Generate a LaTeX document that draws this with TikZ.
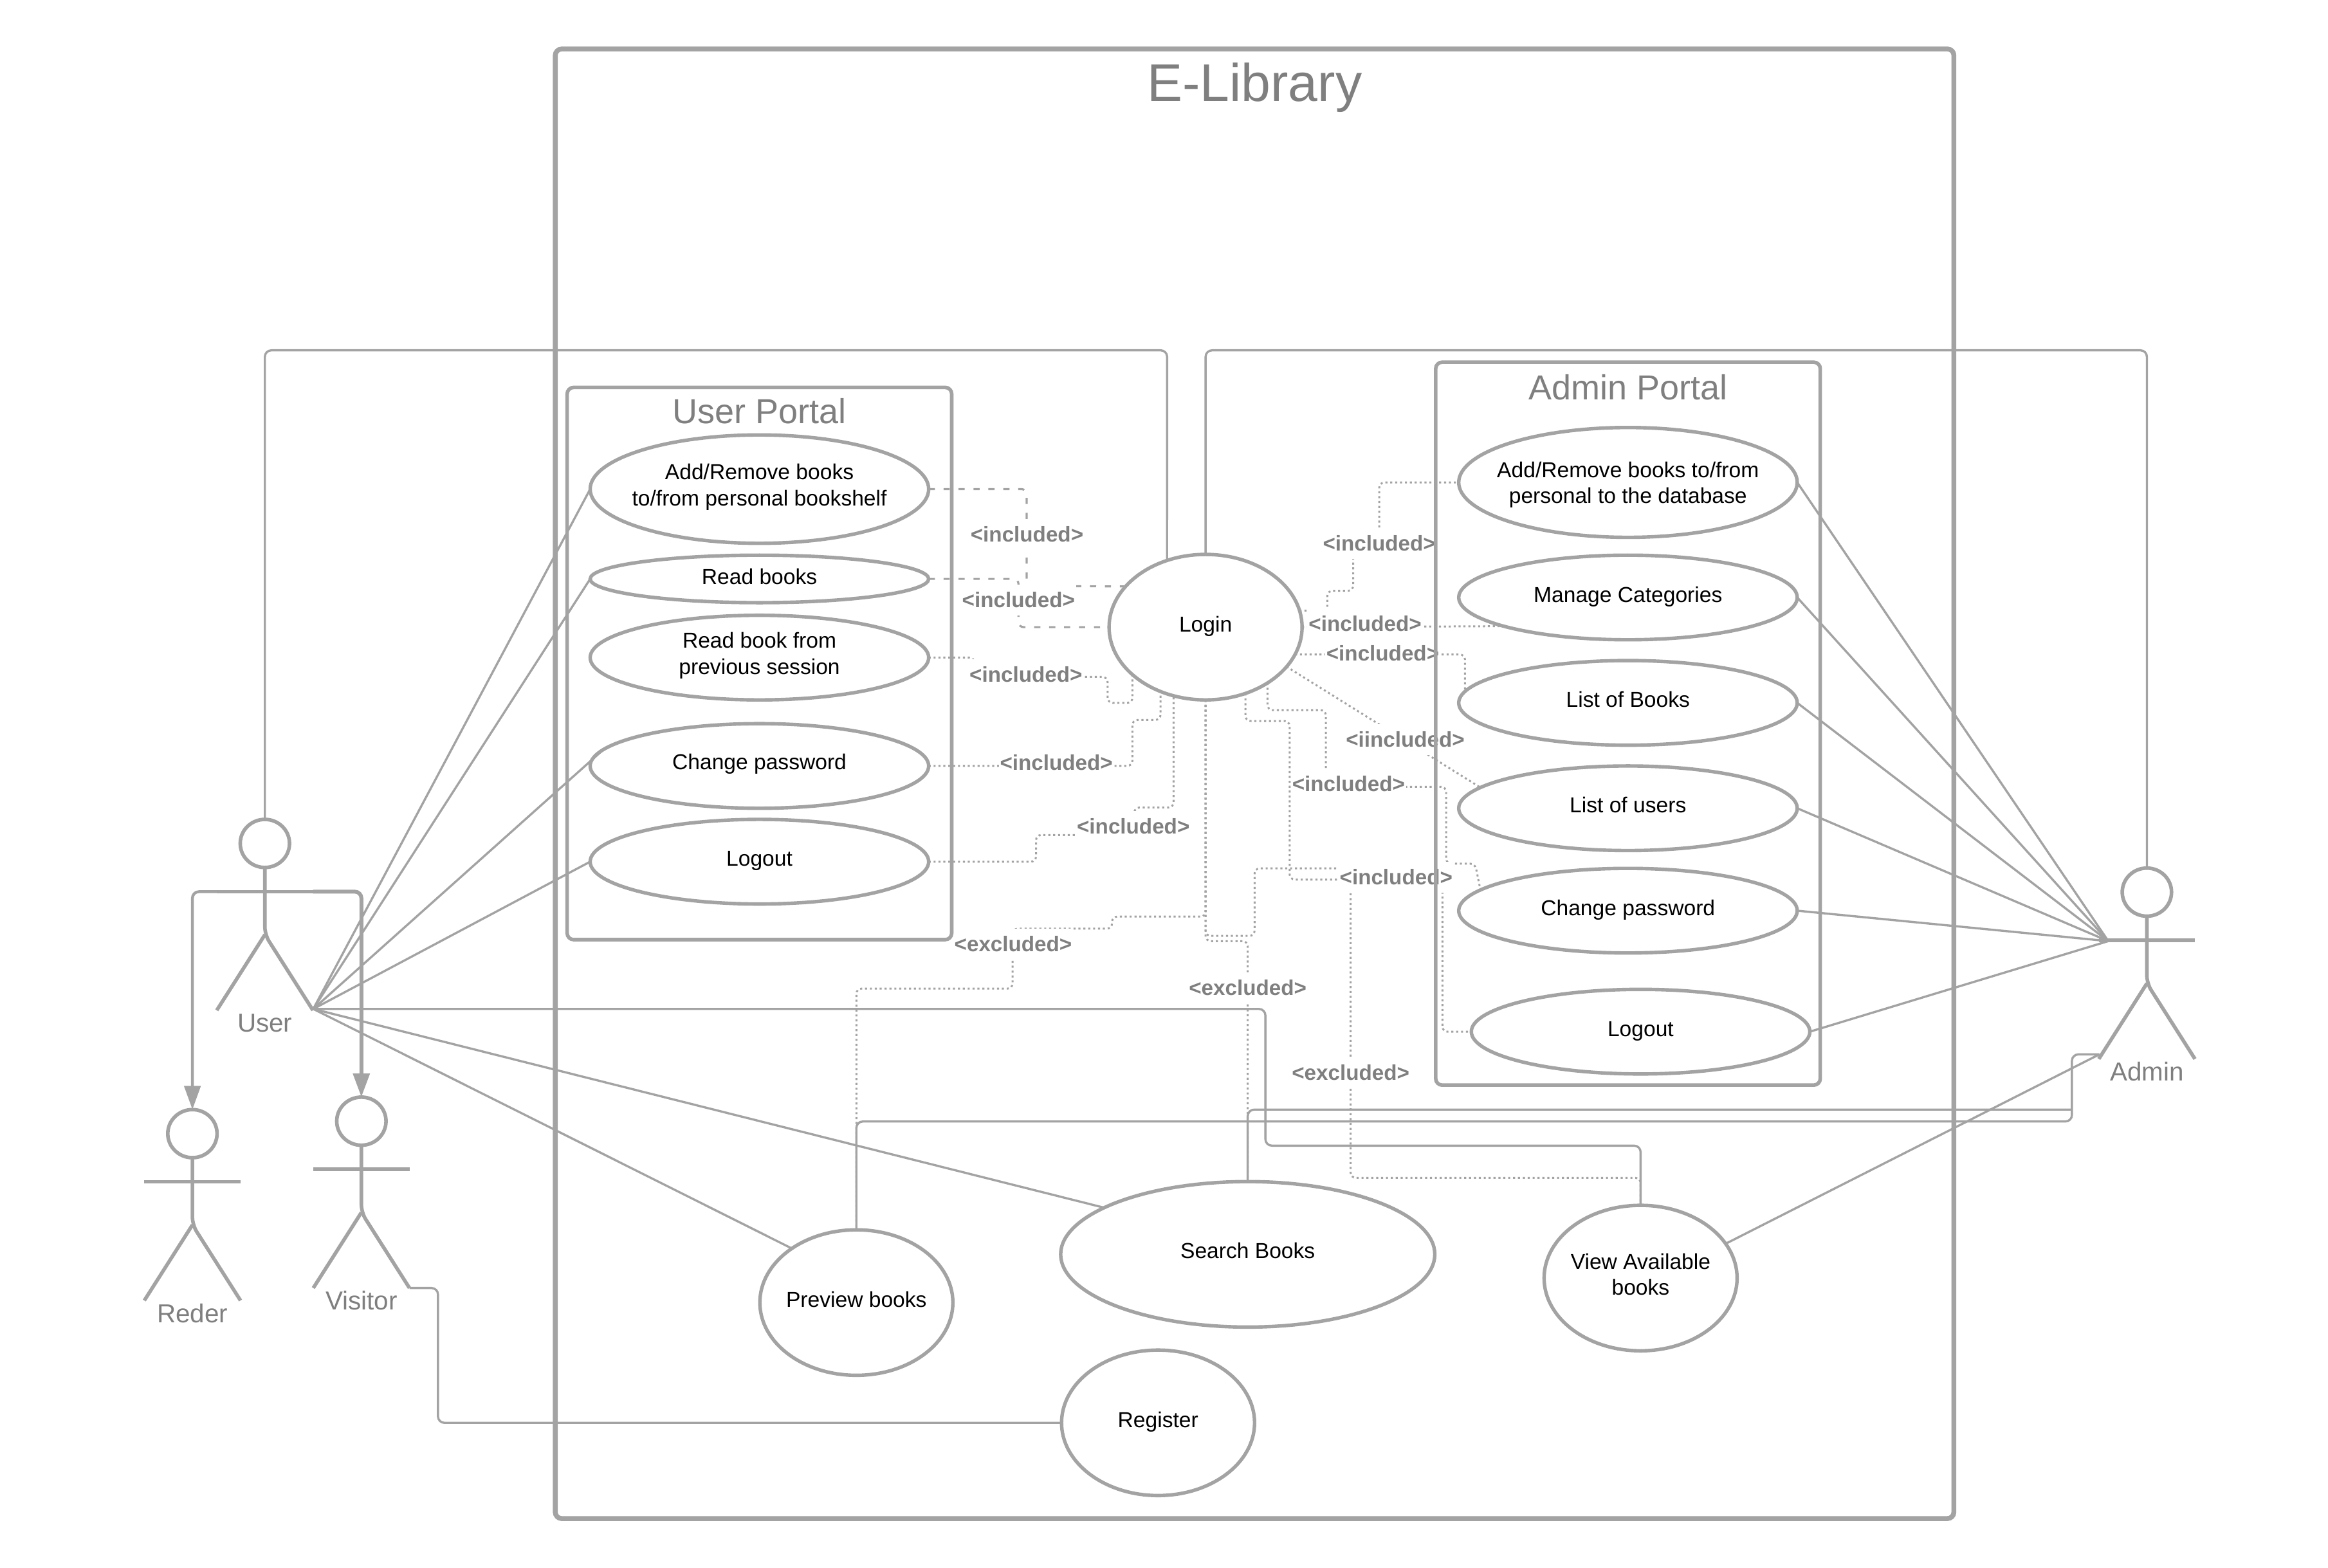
\documentclass[tikz,border=0pt]{standalone}
\usepackage{fontspec}
\setmainfont{Liberation Sans}
\usetikzlibrary{shapes.geometric,arrows.meta}
\pgfdeclarelayer{back}
\pgfdeclarelayer{mid}
\pgfsetlayers{back,mid,main}
\definecolor{ln}{HTML}{A3A3A3}
\definecolor{tx}{HTML}{7F7F7F}
\def\U{0.577}
\tikzset{
  x=0.577pt,y=-0.577pt,
  thin line/.style={draw=ln,line width=0.85pt,rounded corners=2.5pt},
  dotline/.style={draw=ln,line width=0.75pt,rounded corners=2pt,dash pattern=on 0.8pt off 1.1pt},
  dashline/.style={draw=ln,line width=0.8pt,rounded corners=2pt,dash pattern=on 2.4pt off 3.4pt},
  uc/.style args={#1x#2}{ellipse,draw=ln,line width=1.35pt,fill=white,inner sep=0pt,outer sep=0pt,
     minimum width=#1*2*\U pt,minimum height=#2*2*\U pt},
  uctxt/.style={font=\fontsize{8.4}{10.1}\selectfont,text=black,align=center,inner sep=0pt,yshift=#1},
  uctxt/.default=1.4pt,
  lbl/.style={font=\fontsize{8.3}{10}\selectfont\bfseries,text=tx,fill=white,inner xsep=0.5pt,inner ysep=0pt,minimum height=12pt},
  frame/.style={rectangle,draw=ln,rounded corners=2.5pt,inner sep=0pt,outer sep=0pt},
  ptitle/.style={font=\fontsize{13.5}{16}\selectfont,text=tx,inner sep=0pt},
  actorline/.style={draw=ln,line width=1.4pt},
  actlbl/.style={font=\fontsize{10.1}{12}\selectfont,text=tx,inner sep=0pt},
  gen/.style={draw=ln,line width=#1,rounded corners=2.5pt,-{Triangle[width=6.3pt,length=9.2pt]}},
}
% \actor{name}{cx}{cy}{label}
\newcommand{\actor}[4]{%
  \node[ellipse,draw=ln,line width=1.4pt,inner sep=0pt,outer sep=0pt,minimum width=33.2*\U pt,minimum height=32.4*\U pt] (#1) at (#2,#3) {};
  \coordinate (#1-l) at (#2-32.4,#3+32.5);
  \coordinate (#1-r) at (#2+32.4,#3+32.5);
  \coordinate (#1-hip) at (#2,#3+61.5);
  \coordinate (#1-lf) at (#2-32.4,#3+112.4);
  \coordinate (#1-rf) at (#2+32.4,#3+112.4);
  \draw[actorline] (#1-l) -- (#1-r);
  \draw[actorline,rounded corners=3pt] (#1.south) -- (#1-hip) -- (#1-rf);
  \draw[actorline] (#1-hip) -- (#1-lf);
  \node[actlbl] (#1-lbl) at (#2,#3+121) {#4};
}
\begin{document}
\begin{tikzpicture}
\useasboundingbox (0,0) rectangle (1568,1056.3);
% frames
\node[frame,line width=1.9pt,minimum width=942*\U pt,minimum height=990*\U pt] (sys) at (845,528) {};
\node[font=\fontsize{20.6}{24}\selectfont,text=tx,inner sep=0pt] (systitle) at (845,59) {E-Library};
\node[frame,line width=1.4pt,minimum width=259*\U pt,minimum height=372*\U pt] (uport) at (511.5,447) {};
\node[ptitle] (uptitle) at (511.5,277) {User Portal};
\node[frame,line width=1.4pt,minimum width=259*\U pt,minimum height=487*\U pt] (aport) at (1096.5,487.5) {};
\node[ptitle] (aptitle) at (1096.5,261) {Admin Portal};
% user use cases
\node[uc=114x36.5,label={[uctxt=0.8pt]center:{Add/Remove books\\to/from personal bookshelf}}] (uar) at (511.5,329.5) {};
\node[uc=114x16,label={[uctxt=0.8pt]center:{Read books}}] (urb) at (511.5,390) {};
\node[uc=114x28.5,label={[uctxt=0.8pt]center:{Read book from\\previous session}}] (urf) at (511.5,443) {};
\node[uc=114x28.5,label={[uctxt=0.8pt]center:{Change password}}] (ucp) at (511.5,516) {};
\node[uc=114x28.5,label={[uctxt=0.25pt]center:{Logout}}] (ulo) at (511.5,580.5) {};
% admin use cases
\node[uc=114x37,label={[uctxt=-0.9pt]center:{Add/Remove books to/from\\personal to the database}}] (aar) at (1096.5,325) {};
\node[uc=114x28.5,label={[uctxt=0.25pt]center:{Manage Categories}}] (amc) at (1096.5,402.5) {};
\node[uc=114x28.5,label={[uctxt]center:{List of Books}}] (alb) at (1096.5,473.5) {};
\node[uc=114x28.5,label={[uctxt]center:{List of users}}] (alu) at (1096.5,544.5) {};
\node[uc=114x28.5,label={[uctxt=0.25pt]center:{Change password}}] (acp) at (1096.5,613.5) {};
\node[uc=114x28.5,label={[uctxt=0.25pt]center:{Logout}}] (alo) at (1105,695) {};
% centre and bottom
\node[uc=65x49,label={[uctxt=0.25pt]center:{Login}}] (login) at (812,422.5) {};
\node[uc=65x49,label={[uctxt=1.1pt]center:{Preview books}}] (preview) at (576.8,877.5) {};
\node[uc=126x49,label={[uctxt]center:{Search Books}}] (search) at (840.4,845) {};
\node[uc=65x49,label={[uctxt]center:{View Available\\books}}] (view) at (1105,861) {};
\node[uc=65x49,label={[uctxt=0.25pt]center:{Register}}] (register) at (780,958.5) {};
% actors
\actor{user}{178.4}{568.2}{User}
\actor{reder}{129.6}{763.7}{Reder}
\actor{visitor}{243.4}{755.3}{Visitor}
\actor{admin}{1446}{601}{Admin}
\coordinate (adminhub) at (1420,634);
\coordinate (adminfoot) at (1414,710.3);
\coordinate (userhub) at (211,679.7);
% included/excluded connectors
\begin{pgfonlayer}{back}
\draw[dashline] (uar.east) -| (691.5,394.8) -- (login.153.2);
\draw[dashline] (urb.east) -| (686,422.5) -- (login.west);
\draw[dotline] (urf.east) -| (656.3,456) -| (746,473.5) -| (login.213.9);
\draw[dotline] (ucp.east) -| (762.7,485) -| (login.235.8);
\draw[dotline] (ulo.east) -| (697.8,562.5) -| (764,544) -| (login.245.9);
\draw[dotline] (login.10.5) -| (894,398) -| (911.4,366) -| (929,325) -- (aar.west);
\draw[dotline] (login.east) -- (amc.193.8);
\draw[dotline] (login.-17.7) -| (alb.176);
\draw[dotline] (login.-26.6) -- (alu.172);
\draw[dotline] (login.-42) |- (893,478.4) |- (974,530) |- (993.5,581.8) -- (acp.172);
\draw[dotline] (login.-59.2) |- (868.6,485.7) |- (971.5,592.5) |- (alo.west);
\draw[dotline] (login.south) |- (749,617.5) |- (682,625.6) |- (576.8,666) -- (preview.north);
\draw[dotline] (login.south) |- (840.4,634) -- (search.north);
\draw[dotline] (login.south) |- (845,630.5) |- (909.7,585) |- (1105,793.5) -- (view.north);
\end{pgfonlayer}
\begin{pgfonlayer}{mid}
\node[lbl] (l1) at (691.7,360) {<included>};
\node[lbl] (l2) at (686,404.3) {<included>};
\node[lbl] (l3) at (691,454.5) {<included>};
\node[lbl] (l4) at (711.5,513.8) {<included>};
\node[lbl] (l5) at (763.3,556.7) {<included>};
\node[lbl] (l6) at (929,366) {<included>};
\node[lbl] (l7) at (919.4,420.3) {<included>};
\node[lbl] (l8) at (931.3,440) {<included>};
\node[lbl] (l9) at (946.5,498.3) {<iincluded>};
\node[lbl] (l10) at (908.3,528) {<included>};
\node[lbl] (l11) at (940.3,591) {<included>};
\node[lbl] (l12) at (682.4,636) {<excluded>};
\node[lbl] (l13) at (840.4,665.4) {<excluded>};
\node[lbl] (l14) at (909.7,722.5) {<excluded>};
\end{pgfonlayer}
% solid connectors
\draw[thin line] (user.north) |- (786.1,236) -- (login.120);
\draw[thin line] (login.north) |- (1446,236) -- (admin.north);
\draw[thin line] (userhub) -- (uar.west);
\draw[thin line] (userhub) -- (urb.west);
\draw[thin line] (userhub) -- (ucp.174.4);
\draw[thin line] (userhub) -- (ulo.west);
\draw[thin line] (userhub) -- (preview.140);
\draw[thin line] (userhub) -- (search.162.6);
\draw[thin line] (userhub) -| (852.3,771.8) -| (view.north);
\draw[gen=1.1pt] (user-l) -| (reder.north);
\draw[gen=1.5pt] (user-r) -| (visitor.north);
\draw[thin line] (visitor-rf) -| (295,958.5) -- (register.west);
\draw[thin line] (adminhub) -- (aar.east);
\draw[thin line] (adminhub) -- (amc.east);
\draw[thin line] (adminhub) -- (alb.east);
\draw[thin line] (adminhub) -- (alu.east);
\draw[thin line] (adminhub) -- (acp.east);
\draw[thin line] (adminhub) -- (alo.east);
\draw[thin line] (adminfoot) -- (view.22.8);
\draw[thin line] (preview.north) |- (1395.5,755.5) |- (adminfoot);
\draw[thin line] (search.north) |- (1395.5,747.5);
\end{tikzpicture}
\end{document}
